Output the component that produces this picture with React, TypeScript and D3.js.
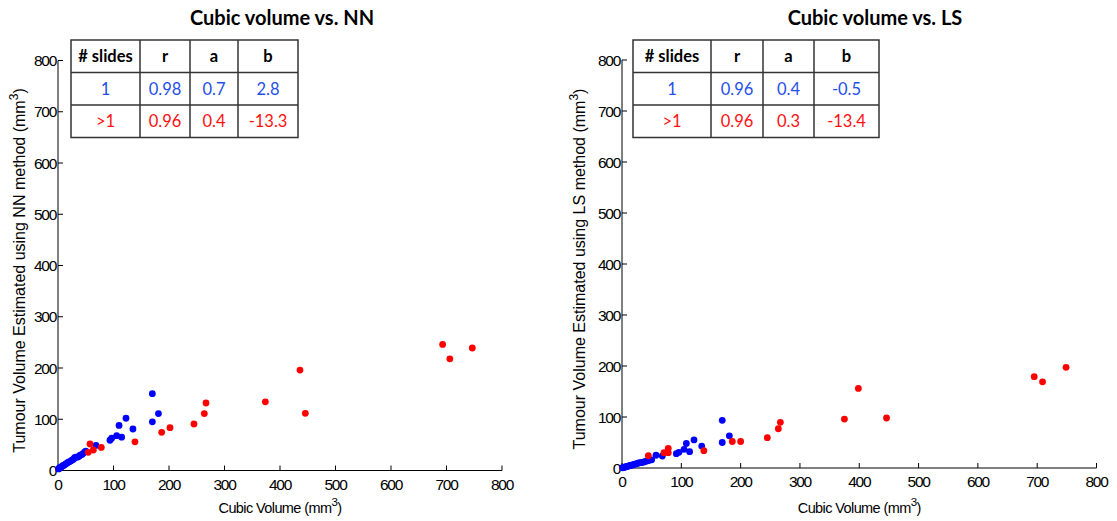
import React from "react";
import * as d3 from "d3";

// ---------- data ----------
const xTicks = [0, 100, 200, 300, 400, 500, 600, 700, 800];
const yTicks = [0, 100, 200, 300, 400, 500, 600, 700, 800];

const nnSingle: [number, number][] = [
  [1, 3], [2, 4], [3, 5], [4, 6], [6, 7], [8, 9], [10, 10], [12, 11], [14, 13], [16, 14],
  [18, 16], [20, 17], [22, 18], [25, 20], [28, 22], [30, 25], [32, 26], [35, 26], [38, 28],
  [40, 30], [43, 31], [45, 33], [48, 36], [50, 38], [68.5, 49], [93.7, 59], [96.7, 63],
  [105.7, 68], [114.7, 65], [110, 88], [122.5, 102], [135, 81], [170, 150], [181, 111], [170, 95],
];
const nnMulti: [number, number][] = [
  [57.7, 51.7], [54.6, 35.5], [63.7, 40], [78, 45], [138.7, 56], [186.8, 74.5], [201.8, 83.5],
  [245, 90.7], [263.6, 111], [266.7, 131.7], [373.6, 134], [436, 196], [445.6, 111.6],
  [693, 246], [706, 218], [746.5, 239],
];

const lsSingle: [number, number][] = [
  [1, 0.5], [3, 1], [5, 2], [7, 2.5], [9, 3], [11, 4], [13, 4.5], [15, 5], [18, 6], [20, 7],
  [23, 8], [26, 9], [28, 10], [31, 10.5], [34, 11], [37, 12], [40, 13], [43, 14], [46, 15],
  [50, 16], [57.3, 25], [68, 23.5], [91.6, 28], [96, 30.7], [104.6, 36.6], [108.5, 48],
  [114, 32], [121.4, 55], [134.4, 43], [169, 93.5], [181, 63], [169, 50],
];
const lsMulti: [number, number][] = [
  [44.4, 24], [70.8, 30], [78, 38.5], [78, 30], [138, 34], [186, 52], [200, 52], [245, 59.5],
  [263.6, 77], [267, 89.5], [375, 96], [398.5, 156], [446, 98], [695, 179], [709, 169],
  [748.7, 197.5],
];

const tableHeader = ["# slides", "r", "a", "b"];
const nnTableSingle = ["1", "0.98", "0.7", "2.8"];
const nnTableMulti = [">1", "0.96", "0.4", "-13.3"];
const lsTableSingle = ["1", "0.96", "0.4", "-0.5"];
const lsTableMulti = [">1", "0.96", "0.3", "-13.4"];

// ---------- styles ----------
const BLUE = "#0000ff";
const RED = "#ff0000";
const TBLUE = "#1f4fe6";
const TRED = "#ff1010";
const tickFont = "'Liberation Sans', Arial, sans-serif";
const tableFont = "Lato, 'Open Sans', sans-serif";

type PanelProps = {
  title: string;
  titleX: number;
  xRange: [number, number];
  yRange: [number, number];
  single: [number, number][];
  multi: [number, number][];
  tableX: number[];
  tableY: number[];
  rowSingle: string[];
  rowMulti: string[];
  yLabel: string;
  yLabelX: number;
};

function Panel(p: PanelProps) {
  const x = d3.scaleLinear().domain([0, 800]).range(p.xRange);
  const y = d3.scaleLinear().domain([0, 800]).range(p.yRange);
  const x0 = x(0);
  const y0 = y(0);
  const rows = [tableHeader, p.rowSingle, p.rowMulti];
  const rowColor = ["#000", TBLUE, TRED];
  return (
    <g>
      <text
        x={p.titleX}
        y={25}
        textAnchor="middle"
        fontFamily={tableFont}
        fontWeight="bold"
        fontSize={20}
        fill="#000"
      >
        {p.title}
      </text>
      {/* axes */}
      <line x1={x0} x2={x(800)} y1={y0} y2={y0} stroke="#000" strokeWidth={1} />
      <line x1={x0} x2={x0} y1={y0} y2={y(800)} stroke="#000" strokeWidth={1} />
      {xTicks.map((t) => (
        <g key={"xt" + t}>
          <line x1={x(t)} x2={x(t)} y1={y0} y2={y0 - 5} stroke="#000" />
          <text
            x={x(t)}
            y={y0 + 19}
            textAnchor="middle"
            fontFamily={tickFont}
            fontSize={15.5}
            letterSpacing={-1.3}
            fill="#000"
          >
            {t}
          </text>
        </g>
      ))}
      {yTicks.map((t) => (
        <g key={"yt" + t}>
          <line x1={x0} x2={x0 + 5} y1={y(t)} y2={y(t)} stroke="#000" />
          <text
            x={x0 - 2}
            y={y(t) + 5.5}
            textAnchor="end"
            fontFamily={tickFont}
            fontSize={15.5}
            letterSpacing={-1.3}
            fill="#000"
          >
            {t}
          </text>
        </g>
      ))}
      {/* axis labels */}
      <text
        x={(x0 + x(800)) / 2}
        y={513}
        textAnchor="middle"
        fontFamily={tickFont}
        fontSize={14.5}
        letterSpacing={-0.6}
        fill="#000"
      >
        Cubic Volume (mm<tspan dy={-7} fontSize={11.5}>3</tspan>
        <tspan dy={7}>)</tspan>
      </text>
      <text
        transform={`translate(${p.yLabelX},${(y0 + y(800)) / 2 + 5}) rotate(-90)`}
        textAnchor="middle"
        fontFamily={tickFont}
        fontSize={16}
        letterSpacing={0}
        fill="#000"
      >
        {p.yLabel} (mm<tspan dy={-7} fontSize={12}>3</tspan>
        <tspan dy={7}>)</tspan>
      </text>
      {/* points */}
      {p.single.map((d, i) => (
        <circle key={"s" + i} cx={x(d[0])} cy={y(d[1])} r={3.4} fill={BLUE} />
      ))}
      {p.multi.map((d, i) => (
        <circle key={"m" + i} cx={x(d[0])} cy={y(d[1])} r={3.4} fill={RED} />
      ))}
      {/* table */}
      <rect
        x={p.tableX[0]}
        y={p.tableY[0]}
        width={p.tableX[4] - p.tableX[0]}
        height={p.tableY[3] - p.tableY[0]}
        fill="#fff"
        stroke="#333"
        strokeWidth={1.5}
      />
      {p.tableX.slice(1, 4).map((tx, i) => (
        <line key={"tc" + i} x1={tx} x2={tx} y1={p.tableY[0]} y2={p.tableY[3]} stroke="#333" strokeWidth={1.5} />
      ))}
      {p.tableY.slice(1, 3).map((ty, i) => (
        <line key={"tr" + i} x1={p.tableX[0]} x2={p.tableX[4]} y1={ty} y2={ty} stroke="#333" strokeWidth={1.5} />
      ))}
      {rows.map((row, ri) =>
        row.map((cell, ci) => (
          <text
            key={"c" + ri + "-" + ci}
            x={(p.tableX[ci] + p.tableX[ci + 1]) / 2}
            y={(p.tableY[ri] + p.tableY[ri + 1]) / 2 + 6}
            textAnchor="middle"
            fontFamily={tableFont}
            fontSize={16.5}
            fontWeight={ri === 0 ? "bold" : "normal"}
            fill={rowColor[ri]}
          >
            {cell}
          </text>
        ))
      )}
    </g>
  );
}

export default function App() {
  return (
    <svg
      width={1117}
      height={521}
      style={{ position: "absolute", left: 0, top: 0, background: "#fff" }}
    >
      <rect x={0} y={0} width={1117} height={521} fill="#fff" />
      <Panel
        title="Cubic volume vs. NN"
        titleX={282}
        xRange={[58, 502]}
        yRange={[470.5, 60.5]}
        single={nnSingle}
        multi={nnMulti}
        tableX={[71, 140, 190, 238, 298]}
        tableY={[40, 72.5, 105, 137.5]}
        rowSingle={nnTableSingle}
        rowMulti={nnTableMulti}
        yLabel="Tumour Volume Estimated using NN method"
        yLabelX={25}
      />
      <Panel
        title="Cubic volume vs. LS"
        titleX={875}
        xRange={[622, 1096.5]}
        yRange={[468, 60]}
        single={lsSingle}
        multi={lsMulti}
        tableX={[633, 711, 763, 814, 879]}
        tableY={[40, 72.5, 105, 137.5]}
        rowSingle={lsTableSingle}
        rowMulti={lsTableMulti}
        yLabel="Tumour Volume Estimated using LS method"
        yLabelX={585}
      />
    </svg>
  );
}
